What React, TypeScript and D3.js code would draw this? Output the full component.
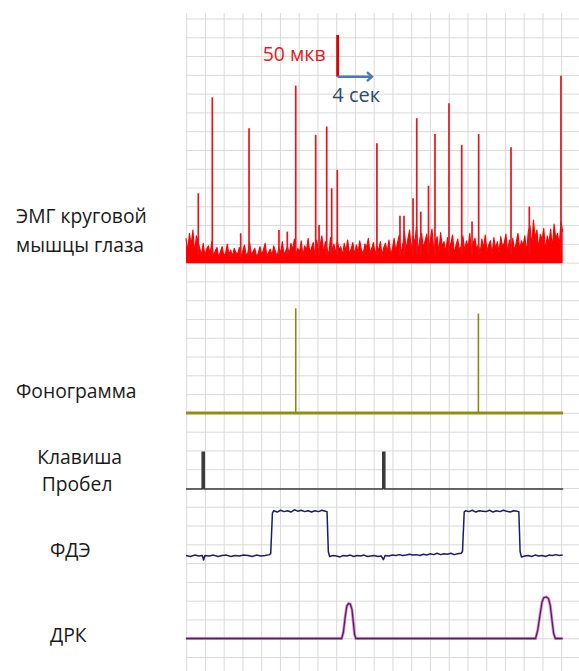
import React from "react";
import * as d3 from "d3";

// ---------- data ----------
// EMG background activity (µV), one sample every 0.2 s
const emgStep = 0.2;
const emgNoise = [
  30, 14, 36, 22, 40, 12, 33, 26, 18, 10,
  24, 9, 17, 21, 11, 26, 8, 15, 19, 7,
  14, 20, 9, 12, 23, 10, 16, 8, 18, 13,
  11, 19, 7, 15, 22, 9, 13, 25, 10, 14,
  18, 8, 12, 20, 10, 16, 24, 9, 13, 17,
  9, 21, 14, 8, 19, 12, 26, 10, 15, 20,
  11, 24, 16, 29, 10, 18, 13, 27, 9, 21,
  15, 30, 12, 19, 25, 10, 28, 14, 22, 33,
  12, 26, 18, 10, 31, 15, 23, 11, 27, 16,
  20, 9, 24, 14, 28, 11, 17, 25, 10, 22,
  13, 27, 16, 11, 23, 19, 30, 12, 18, 25,
  10, 21, 15, 26, 9, 19, 24, 13, 28, 11,
  17, 30, 14, 25, 34, 12, 22, 38, 16, 29,
  40, 15, 33, 24, 44, 13, 30, 36, 18, 27,
  35, 14, 28, 41, 16, 25, 32, 12, 37, 20,
  26, 13, 31, 18, 24, 34, 11, 22, 29, 15,
  21, 33, 14, 27, 19, 36, 12, 25, 30, 16,
  23, 12, 29, 18, 34, 14, 22, 27, 11, 31,
  17, 26, 13, 32, 20, 24, 35, 12, 28, 19,
  30, 14, 25, 36, 16, 27, 21, 33, 13, 38,
  45, 20, 52, 30, 40, 17, 35, 28, 42, 15,
  33, 24, 41, 18, 47, 29, 36, 22, 50, 38,
];
// EMG spikes: time (s), amplitude (µV)
const emgSpikeTimes = [1.43, 3.06, 6.36, 7.33, 10.81, 11.78, 12.76, 15.08, 15.47, 16.36, 16.94, 17.59, 22.2, 24.88, 25.35, 26.4, 26.83, 27.3, 28.2, 28.95, 30.58, 32.06, 33.26, 34.03, 37.79, 39.92, 43.6];
const emgSpikeValues = [84, 199, 36, 162, 40, 38, 213, 154, 46, 164, 90, 112, 144, 57, 57, 78, 174, 62, 93, 155, 192, 142, 50, 155, 139, 68, 225];

// Phonogram clicks
const phonoTimes = [12.76, 34.0];
const phonoValues = [1.0, 0.95];

// Space key presses
const keyTimes = [2.0, 23.0];

// FDE level: [time, level]
const fdePoints: [number, number][] = [
  [0, 0.01], [0.5, -0.01], [1, 0.02], [1.5, 0], [1.9, 0.01], [2.05, -0.09], [2.2, 0.01], [2.7, 0], [3.2, 0.02], [3.7, -0.01],
  [4.2, 0.01], [4.7, 0.02], [5.2, -0.01], [5.7, 0.01], [6.2, 0], [6.7, 0.02], [7.2, 0.01], [7.7, -0.01], [8.2, 0.02], [8.7, 0],
  [9.2, 0.01], [9.7, 0.03], [9.85, 0.05], [10.05, 0.95], [10.2, 1.0], [10.6, 0.97], [11, 1.01], [11.4, 0.98], [11.8, 1.0], [12.2, 0.97],
  [12.6, 1.02], [13, 0.99], [13.4, 1.01], [13.8, 0.98], [14.2, 1.0], [14.6, 0.97], [15, 1.0], [15.4, 0.98], [15.8, 1.01], [16.2, 0.99],
  [16.4, 0.98], [16.55, 0.1], [16.7, -0.01], [17.1, 0.01], [17.5, 0], [17.9, -0.02], [18.3, 0.01], [18.7, 0], [19.1, 0.02], [19.5, -0.01],
  [19.9, 0.01], [20.3, 0], [20.7, 0.02], [21.1, -0.01], [21.5, 0], [21.9, 0.01], [22.3, -0.01], [22.7, 0], [22.95, -0.08], [23.15, 0.01],
  [23.6, 0], [24, 0.02], [24.4, 0.01], [24.8, 0.03], [25.2, 0.01], [25.6, 0.02], [26, 0.04], [26.4, 0.02], [26.8, 0.03], [27.2, 0.01],
  [27.6, 0.04], [28, 0.02], [28.4, 0.05], [28.8, 0.03], [29.2, 0.06], [29.6, 0.03], [30, 0.05], [30.4, 0.04], [30.8, 0.06], [31.2, 0.03],
  [31.6, 0.05], [32, 0.06], [32.15, 0.1], [32.35, 0.97], [32.5, 1.0], [32.9, 0.98], [33.3, 1.01], [33.7, 0.97], [34.1, 1.0], [34.5, 0.99],
  [34.9, 0.98], [35.3, 1.01], [35.7, 0.97], [36.1, 1.0], [36.5, 0.98], [36.9, 1.01], [37.3, 0.99], [37.7, 0.97], [38.1, 1.0], [38.5, 0.99],
  [38.7, 0.98], [38.85, 0.1], [39, -0.02], [39.4, 0], [39.8, 0.01], [40.2, -0.01], [40.6, 0.02], [41, 0], [41.4, 0.01], [41.8, -0.01],
  [42.2, 0.02], [42.6, 0.01], [43, 0.03], [43.4, 0.01], [43.8, 0.02],
];

// DRK: [time, level]
const drkPoints: [number, number][] = [
  [0, 0], [18.1, 0], [18.3, 0.15], [18.5, 0.5], [18.7, 0.78], [18.9, 0.84], [19.1, 0.83], [19.3, 0.7], [19.45, 0.4], [19.6, 0.1], [19.75, 0],
  [40.65, 0], [40.9, 0.2], [41.15, 0.55], [41.4, 0.88], [41.6, 0.98], [41.9, 1.0], [42.15, 0.96], [42.35, 0.8], [42.55, 0.45], [42.75, 0.12], [42.95, 0], [43.8, 0],
];

const labels = ["ЭМГ круговой", "мышцы глаза", "Фонограмма", "Клавиша", "Пробел", "ФДЭ", "ДРК"];
const scaleLabels = ["50 мкв", "4 сек"];

// ---------- layout ----------
const W = 579;
const H = 671;
const tEnd = 43.85;

const x = d3.scaleLinear().domain([0, 44]).range([186, 564.4]);
const yEmg = d3.scaleLinear().domain([0, 50]).range([263.3, 221.6]);
const yPhono = d3.scaleLinear().domain([0, 1]).range([413, 308.3]);
const yKey = d3.scaleLinear().domain([0, 1]).range([489, 452.3]);
const yFde = d3.scaleLinear().domain([0, 1]).range([556, 510.7]);
const yDrk = d3.scaleLinear().domain([0, 1]).range([638.5, 596.9]);

const gridX0 = 186.7;
const gridY0 = 19;
const gridStepX = 18.75;
const gridStepY = 18.78;

export default function App() {
  const font = "'Open Sans', 'Noto Sans', sans-serif";

  const vLines = d3.range(gridX0, W + 1, gridStepX);
  const hLines = d3.range(gridY0, H, gridStepY);

  const emgArea = d3
    .area<number>()
    .x((_, i) => x(i * emgStep))
    .y0(yEmg(0))
    .y1((d) => yEmg(d));
  const emgLine = d3
    .line<number>()
    .x((_, i) => x(i * emgStep))
    .y((d) => yEmg(d));

  const pl = (ys: d3.ScaleLinear<number, number>) =>
    d3
      .line<[number, number]>()
      .x((d) => x(d[0]))
      .y((d) => ys(d[1]));

  const keyPts: [number, number][] = [[0, 0]];
  keyTimes.forEach((t) => {
    keyPts.push([t - 0.12, 0], [t - 0.12, 1], [t + 0.12, 1], [t + 0.12, 0]);
  });
  keyPts.push([tEnd, 0]);

  // scale bar anchor
  const barX = 337.6;
  const barY = 76.7;
  const barLen = yEmg(0) - yEmg(50);
  const arrowLen = x(4) - x(0);

  return (
    <svg
      width={W}
      height={H}
      style={{ position: "absolute", left: 0, top: 0, background: "#fff" }}
      fontFamily={font}
    >
      {/* grid */}
      <g stroke="#d9d9d9" strokeWidth={1}>
        {vLines.map((gx, i) => (
          <line key={"v" + i} x1={gx} x2={gx} y1={13} y2={H} />
        ))}
        {hLines.map((gy, i) => (
          <line key={"h" + i} x1={186} x2={W} y1={gy} y2={gy} />
        ))}
      </g>

      {/* EMG */}
      <path d={emgArea(emgNoise) || ""} fill="#ff0000" stroke="none" />
      <path d={emgLine(emgNoise) || ""} fill="none" stroke="#ff0000" strokeWidth={1.1} strokeLinejoin="round" />
      {emgSpikeTimes.map((t, i) => (
        <line
          key={"s" + i}
          x1={x(t)}
          x2={x(t)}
          y1={yEmg(10)}
          y2={yEmg(emgSpikeValues[i])}
          stroke="#e8141c"
          strokeWidth={1.7}
        />
      ))}

      {/* Phonogram */}
      <line x1={x(0)} x2={x(tEnd)} y1={yPhono(0)} y2={yPhono(0)} stroke="#8f8f14" strokeWidth={2.8} />
      {phonoTimes.map((t, i) => (
        <line
          key={"p" + i}
          x1={x(t)}
          x2={x(t)}
          y1={yPhono(0)}
          y2={yPhono(phonoValues[i])}
          stroke="#8a8a12"
          strokeWidth={1.6}
        />
      ))}

      {/* Key */}
      <path d={pl(yKey)(keyPts) || ""} fill="#3a3a3a" stroke="#3a3a3a" strokeWidth={1.5} />

      {/* FDE */}
      <path d={pl(yFde)(fdePoints) || ""} fill="none" stroke="#1c1c6e" strokeWidth={1.5} strokeLinejoin="round" />

      {/* DRK */}
      <path d={pl(yDrk)(drkPoints) || ""} fill="none" stroke="#c050c0" strokeWidth={3} strokeOpacity={0.6} />
      <path d={pl(yDrk)(drkPoints) || ""} fill="none" stroke="#5e1a5e" strokeWidth={1.3} />

      {/* scale bar */}
      <line x1={barX} x2={barX} y1={barY} y2={barY - barLen} stroke="#e00000" strokeWidth={2.8} />
      <line x1={barX} x2={barX + arrowLen - 1} y1={barY} y2={barY} stroke="#4a7ab5" strokeWidth={2.6} />
      <path
        d={`M${barX + arrowLen - 5},${barY - 4.5} L${barX + arrowLen},${barY} L${barX + arrowLen - 5},${barY + 4.5}`}
        fill="none"
        stroke="#4a7ab5"
        strokeWidth={2.4}
      />
      <text x={262.7} y={60.7} fontSize={19.5} fill="#e31a1c">
        {scaleLabels[0]}
      </text>
      <text x={332.3} y={101.7} fontSize={20} fill="#2e4a6b">
        {scaleLabels[1]}
      </text>

      {/* labels */}
      <g fontSize={19.3} fill="#1a1a1a">
        <text x={16} y={223.3}>{labels[0]}</text>
        <text x={16} y={251.7}>{labels[1]}</text>
        <text x={16} y={398.3}>{labels[2]}</text>
        <text x={37.3} y={464}>{labels[3]}</text>
        <text x={41.7} y={490.7}>{labels[4]}</text>
        <text x={50} y={556.7}>{labels[5]}</text>
        <text x={50} y={641.7}>{labels[6]}</text>
      </g>
    </svg>
  );
}
